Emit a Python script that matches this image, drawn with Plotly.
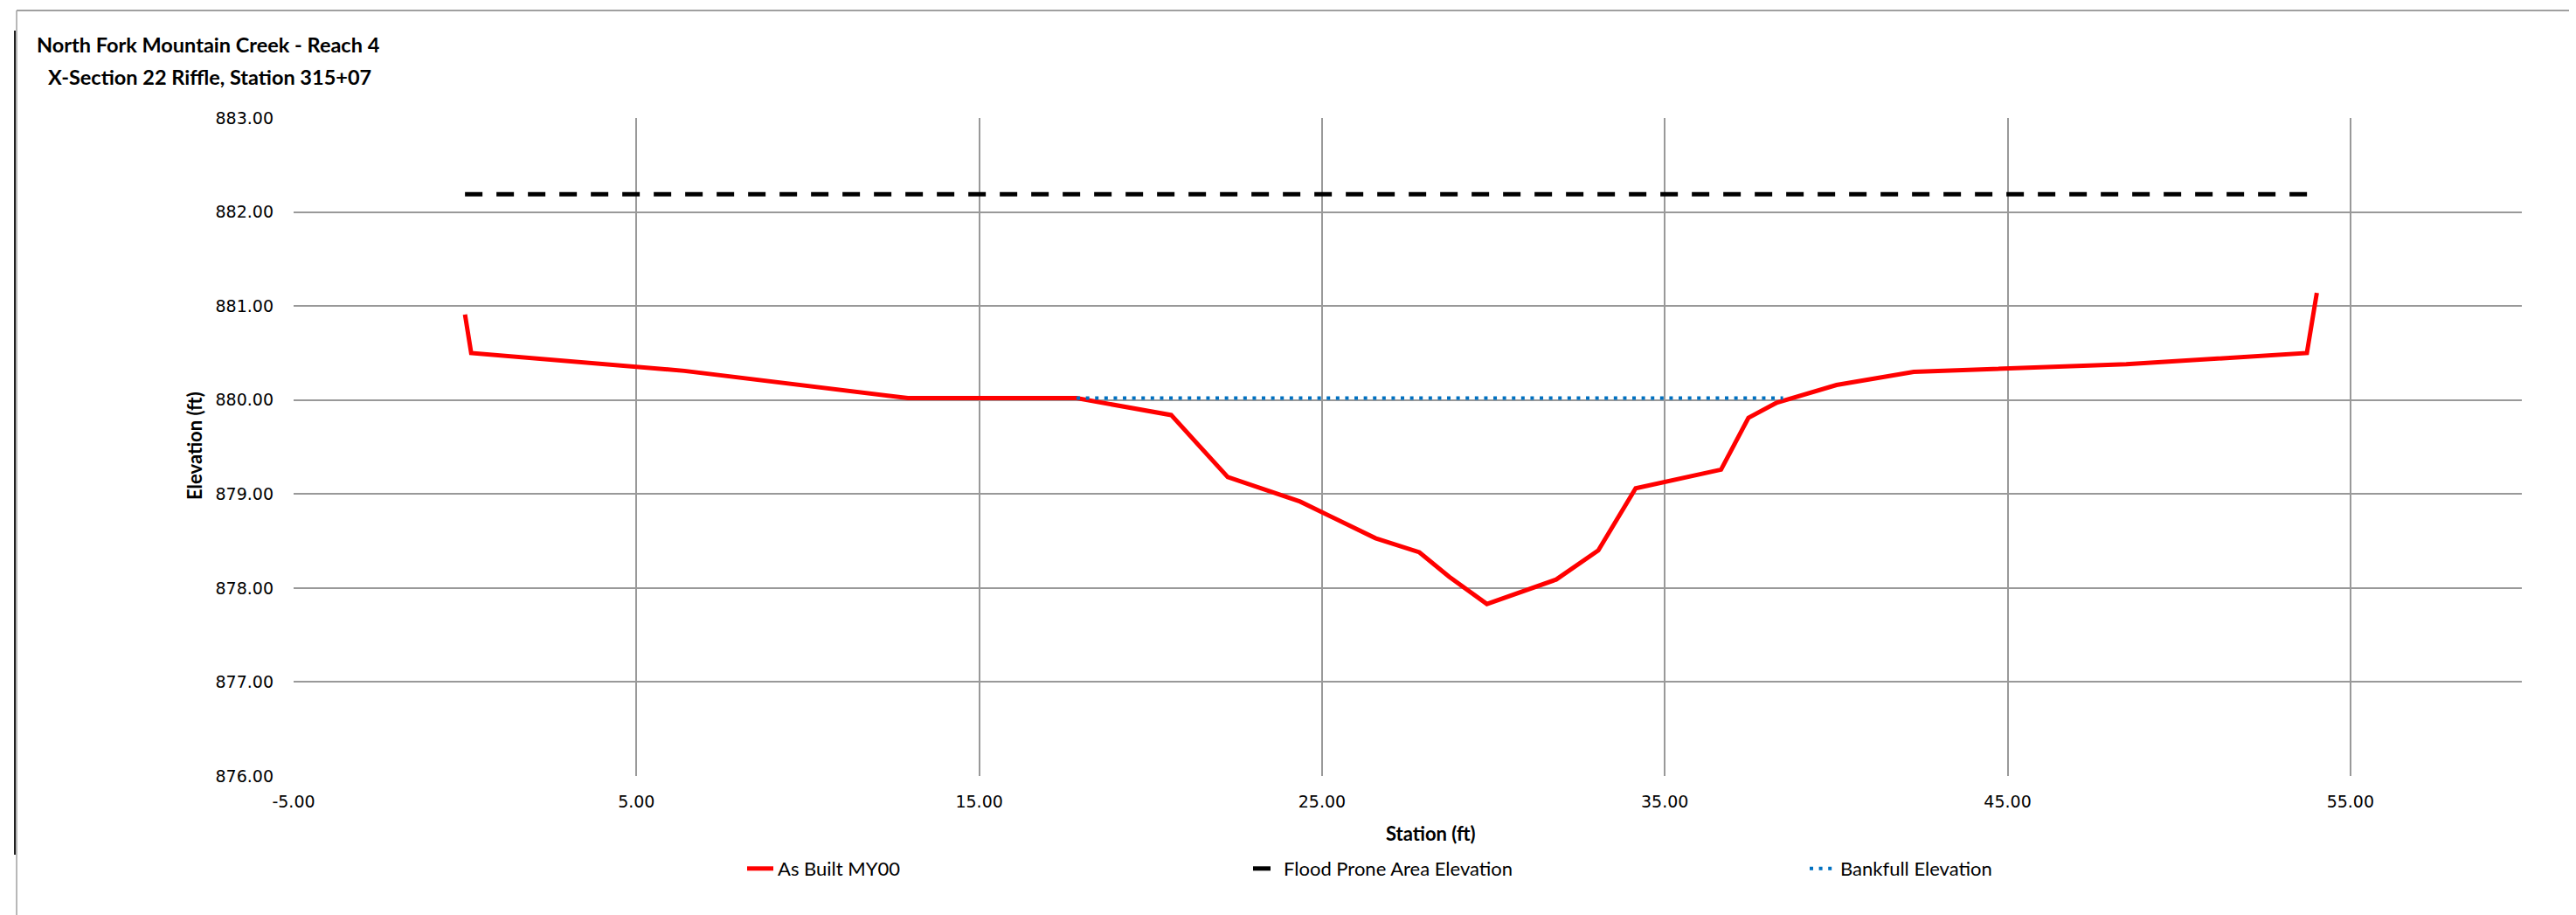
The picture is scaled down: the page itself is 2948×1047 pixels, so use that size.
import plotly.graph_objects as go

# ---- data ----
station = [0.0, 0.18, 6.4, 12.92, 17.84, 20.60, 22.25, 24.36, 26.56, 27.84, 28.71,
           29.81, 31.83, 33.06, 34.15, 36.64, 37.44, 38.26, 40.01, 42.26, 48.46,
           53.73, 54.02]
elevation = [880.91, 880.50, 880.31, 880.02, 880.02, 879.84, 879.18, 878.92, 878.53,
             878.38, 878.12, 877.83, 878.09, 878.40, 879.06, 879.26, 879.81, 879.97,
             880.16, 880.30, 880.38, 880.50, 881.14]
flood_x = [0.0, 54.1]
flood_y = [882.19, 882.19]
bankfull_x = [17.84, 38.45]
bankfull_y = [880.02, 880.02]

x_tick_vals = [-5, 5, 15, 25, 35, 45, 55]
x_tick_labels = ["-5.00", "5.00", "15.00", "25.00", "35.00", "45.00", "55.00"]

title1 = "North Fork Mountain Creek - Reach 4"
title2 = "X-Section 22 Riffle, Station 315+07"
x_title = "Station (ft)"
y_title = "Elevation (ft)"
names = ["As Built MY00", "Flood Prone Area Elevation", "Bankfull Elevation"]

# ---- layout geometry (pixels) ----
W, H = 2948, 1047
L, R, T, B = 328, 70, 127, 167
PW, PH = W - L - R, H - T - B


def px(x):
    return (x - L) / PW


def py(y):
    return (H - B - y) / PH


CAL = "Lato, Carlito, Calibri, sans-serif"
VER = "'DejaVu Sans', Verdana, sans-serif"

fig = go.Figure()
fig.add_trace(go.Scatter(x=station, y=elevation, mode="lines", name=names[0],
                         line=dict(color="#FF0000", width=5), legend="legend"))
fig.add_trace(go.Scatter(x=flood_x, y=flood_y, mode="lines", name=names[1],
                         line=dict(color="#000000", width=5, dash="20px,16px"),
                         legend="legend2"))
fig.add_trace(go.Scatter(x=bankfull_x, y=bankfull_y, mode="lines", name=names[2],
                         line=dict(color="#0070C0", width=4, dash="4px,6.6px"),
                         legend="legend3"))

leg_common = dict(orientation="h", xanchor="left", yanchor="middle",
                  font=dict(family=CAL, size=22, color="#000000"),
                  bgcolor="rgba(0,0,0,0)", borderwidth=0)

fig.update_layout(
    width=W, height=H,
    margin=dict(l=L, r=R, t=T, b=B),
    paper_bgcolor="white", plot_bgcolor="white",
    showlegend=True,
    legend=dict(x=px(884 - 42), y=py(986), **leg_common),
    legend2=dict(x=px(1463 - 42), y=py(986), **leg_common),
    legend3=dict(x=px(2100 - 42), y=py(986), **leg_common),
    xaxis=dict(range=[-5, 60], tickmode="array", tickvals=x_tick_vals,
               ticktext=x_tick_labels,
               showgrid=True, gridcolor="#999999", gridwidth=1.5,
               zeroline=False, showline=False, ticks="",
               ticklabelstandoff=16,
               tickfont=dict(family=VER, size=19, color="#000000")),
    yaxis=dict(range=[876, 883], dtick=1, tickformat=".2f",
               showgrid=True, gridcolor="#999999", gridwidth=1.5,
               zeroline=False, showline=False, ticks="",
               ticklabelstandoff=22,
               tickfont=dict(family=VER, size=19, color="#000000")),
    annotations=[
        dict(text="<b>" + title1 + "</b>", xref="paper", yref="paper",
             x=px(32), y=py(43), xanchor="left", yanchor="middle", showarrow=False,
             font=dict(family=CAL, size=23.5, color="#000000")),
        dict(text="<b>" + title2 + "</b>", xref="paper", yref="paper",
             x=px(45), y=py(80), xanchor="left", yanchor="middle", showarrow=False,
             font=dict(family=CAL, size=23.5, color="#000000")),
        dict(text="<b>" + x_title + "</b>", xref="paper", yref="paper",
             x=px(1629), y=py(946), xanchor="center", yanchor="middle", showarrow=False,
             font=dict(family=CAL, size=22, color="#000000")),
        dict(text="<b>" + y_title + "</b>", xref="paper", yref="paper",
             x=px(214), y=py(502), xanchor="center", yanchor="middle", showarrow=False,
             textangle=-90, font=dict(family=CAL, size=22, color="#000000")),
    ],
    shapes=[
        dict(type="line", xref="paper", yref="paper", x0=px(11), x1=px(W),
             y0=py(4), y1=py(4), line=dict(color="#A0A0A0", width=2)),
        dict(type="line", xref="paper", yref="paper", x0=px(11), x1=px(11),
             y0=py(4), y1=py(H), line=dict(color="#A0A0A0", width=1.5)),
        dict(type="line", xref="paper", yref="paper", x0=px(9), x1=px(9),
             y0=py(27), y1=py(970), line=dict(color="#222222", width=2)),
    ],
)

fig.write_html("out.html")
